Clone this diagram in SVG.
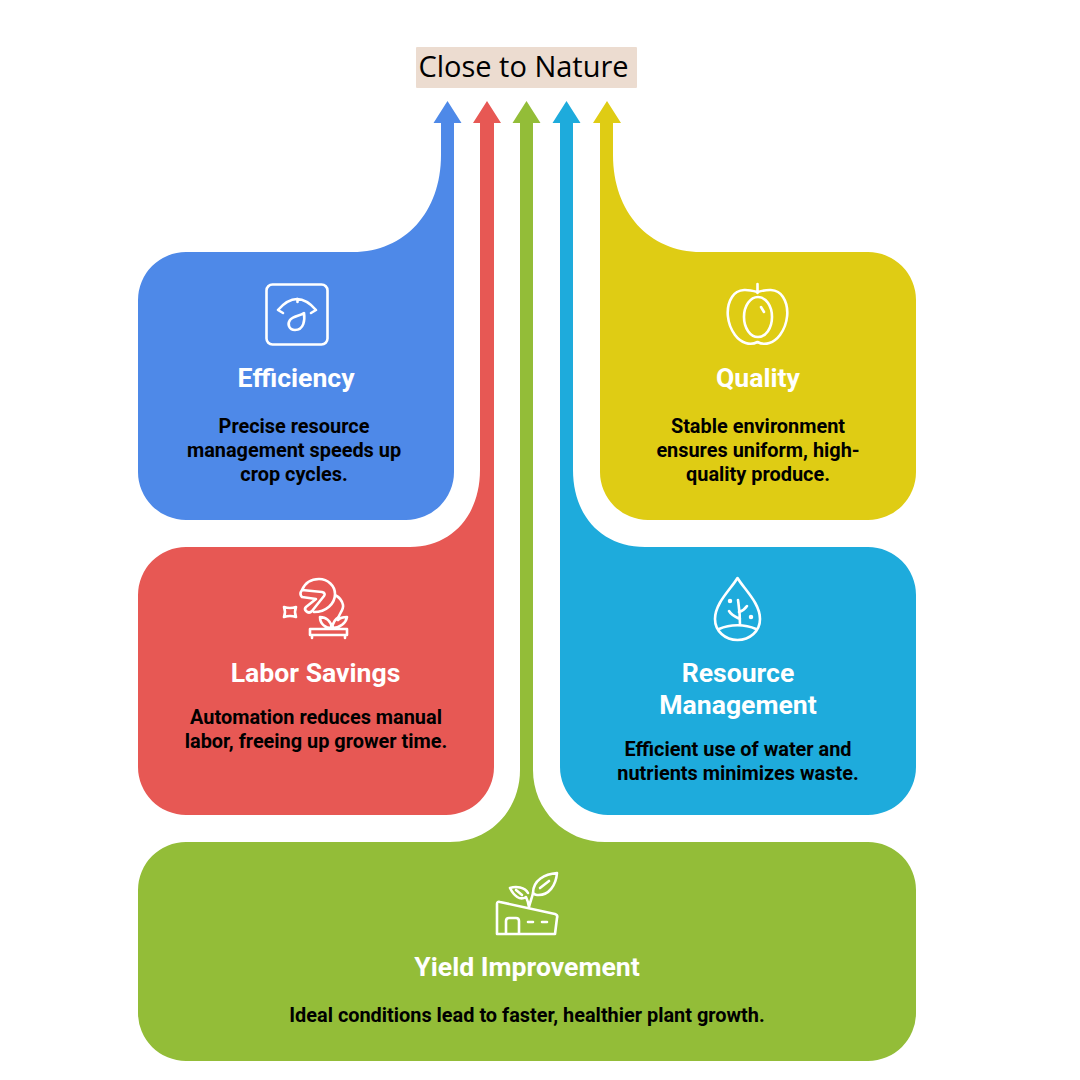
<svg xmlns="http://www.w3.org/2000/svg" width="1080" height="1080" viewBox="0 0 1080 1080">
<style>
.t{font-family:Roboto,"Liberation Sans",sans-serif;font-weight:700;font-size:26.600px;fill:#fff;text-anchor:middle}
.b{font-family:Roboto,"Liberation Sans",sans-serif;font-weight:700;font-size:19.900px;fill:#000;text-anchor:middle}
.i{fill:none;stroke:#fff;stroke-width:2.600;stroke-linecap:round;stroke-linejoin:round}
</style>
<rect width="1080" height="1080" fill="#fff"/>
<g id="connectors">
<path id="yield-arrow" fill="#93bd38" d="M526.500 101L540.500 123H533V770C533 810 565 842 605 842H868A48 48 0 0 1 916 890V1013A48 48 0 0 1 868 1061H186A48 48 0 0 1 138 1013V890A48 48 0 0 1 186 842H450C490 842 520 810 520 770V123H512.500Z"/>
</g>
<g id="title"><rect x="416" y="47" width="221" height="41" rx="1" fill="#ecdcd0"/>
<text x="523.500" y="77" font-family="'Open Sans','Noto Sans',sans-serif" font-size="29" fill="#000" text-anchor="middle">Close to Nature</text></g>
<g id="efficiency">
<path fill="#4e89e8" d="M447.500 101L461.500 123H454V472A48 48 0 0 1 406 520H186A48 48 0 0 1 138 472V300A48 48 0 0 1 186 252H353C405 252 441 212 441 155V123H433.500Z"/>
<rect class="i" x="266.500" y="284.500" width="61" height="60" rx="6"/>
<path class="i" d="M283 313L278 310Q297 288 316 310L311 313M297.500 299V302M304 313C305 320 304 330 295 330C289 330 287 324 290 320C293 316 300 316 304 313Z"/>
<text class="t" x="296" y="387">Efficiency</text>
<text class="b" x="294" y="433">Precise resource</text><text class="b" x="294" y="457">management speeds up</text><text class="b" x="294" y="481">crop cycles.</text>
</g>
<g id="labor-savings">
<path fill="#e75854" d="M487 101L501 123H494V767A48 48 0 0 1 446 815H186A48 48 0 0 1 138 767V595A48 48 0 0 1 186 547H410C452 547 480 515 480 470V123H473Z"/>
<path class="i" d="M302 590L322 592Q326 593 324 596L312 611Q309 614 306 611Q304 609 306 607L316 599L302 597Q299 594 302 590ZM302 590C305 583 311 579 319 579C328 579 335 586 335 594C335 604 326 612 314 612M335 595C339 597 342 600 343 605C344 610 339 613 338 619"/>
<path class="i" d="M310 629H347V635H310ZM312 635V638M345 635V638M332 628C325 628 320 624 320 617C326 617 331 621 332 628ZM332 628C333 622 335 619 339 617M332 628C340 628 346 623 347 617C343 617 340 618 338 620"/>
<path class="i" d="M284 607Q290 609 296 607Q294 612 296 617Q290 615 284 617Q286 612 284 607Z" stroke-width="2.200"/>
<text class="t" x="315.500" y="682">Labor Savings</text>
<text class="b" x="316" y="724">Automation reduces manual</text><text class="b" x="316" y="748">labor, freeing up grower time.</text>
</g>
<g id="resource-management">
<path fill="#1eabdc" d="M566.500 101L580.500 123H573V470C573 515 601 547 645 547H868A48 48 0 0 1 916 595V767A48 48 0 0 1 868 815H608A48 48 0 0 1 560 767V123H552.500Z"/>
<path class="i" d="M737.500 578C731 589 715 603 715 619C715 631 725 640 737.500 640C750 640 760 631 760 619C760 603 744 589 737.500 578ZM719 629C730 624 745 624 756 629M740 625C740 612 739 607 738 600M740 619C736 617 732 616 729 611M739 612C742 611 745 609 747 606"/>
<circle cx="730" cy="601" r="1.500" fill="#fff" stroke="#fff" stroke-width="1.500"/><circle cx="751" cy="617" r="1.500" fill="#fff" stroke="#fff" stroke-width="1.500"/>
<text class="t" x="738" y="682">Resource</text><text class="t" x="738" y="714">Management</text>
<text class="b" x="738" y="756">Efficient use of water and</text><text class="b" x="738" y="780">nutrients minimizes waste.</text>
</g>
<g id="quality">
<path fill="#dfcc14" d="M607 101L621 123H613V155C613 212 649 252 701 252H868A48 48 0 0 1 916 300V472A48 48 0 0 1 868 520H648A48 48 0 0 1 600 472V123H593Z"/>
<path class="i" d="M757.500 284V293M757.500 292C750 290 738 287 732 297C725 308 727 324 735 335C741 343 750 346 757.500 342C765 346 774 343 780 335C788 324 790 308 783 297C777 287 765 290 757.500 292Z"/>
<ellipse class="i" cx="758" cy="317" rx="14" ry="20"/><path class="i" d="M761 307L764 312" stroke-width="2.200"/>
<text class="t" x="758" y="387">Quality</text>
<text class="b" x="758" y="433">Stable environment</text><text class="b" x="758" y="457">ensures uniform, high-</text><text class="b" x="758" y="481">quality produce.</text>
</g>
<g id="yield-improvement">
<path class="i" d="M497 934V904Q497 901 500 902L555 914Q558 915 557 918L555 934ZM506 934V921C506 919 507 918 509 918H516C518 918 519 919 519 921V934M528 922H533M542 922H547"/>
<path class="i" d="M529 907C530 902 532 898 533 893C533 880 545 874 557 873C556 885 549 896 537 895C535 895 534 894 533 893M529 907C528 902 527 899 526 897C520 901 514 896 510 888C516 886 525 887 528 893M516 890L522 895M549 881L540 888"/>
<text class="t" x="527" y="976">Yield Improvement</text>
<text class="b" x="527" y="1022">Ideal conditions lead to faster, healthier plant growth.</text>
</g>
</svg>
